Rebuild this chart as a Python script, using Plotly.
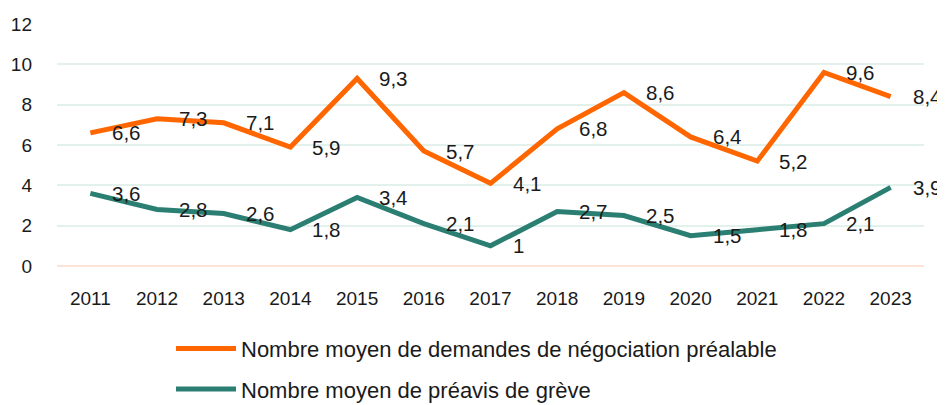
import plotly.graph_objects as go

years = ["2011", "2012", "2013", "2014", "2015", "2016", "2017", "2018", "2019", "2020", "2021", "2022", "2023"]
negociation = [6.6, 7.3, 7.1, 5.9, 9.3, 5.7, 4.1, 6.8, 8.6, 6.4, 5.2, 9.6, 8.4]
preavis = [3.6, 2.8, 2.6, 1.8, 3.4, 2.1, 1.0, 2.7, 2.5, 1.5, 1.8, 2.1, 3.9]
name_neg = "Nombre moyen de demandes de négociation préalable"
name_pre = "Nombre moyen de préavis de grève"

ORANGE = "#FF6600"
TEAL = "#2A7E72"
FONT = "Liberation Sans, Arial, sans-serif"

def fmt(v):
    return ("%g" % v).replace(".", ",")

fig = go.Figure()
fig.add_trace(go.Scatter(x=years, y=negociation, name=name_neg, mode="lines",
                         line=dict(color=ORANGE, width=5), legendgroup="a"))
fig.add_trace(go.Scatter(x=years, y=preavis, name=name_pre, mode="lines",
                         line=dict(color=TEAL, width=5), legendgroup="b"))

annotations = []
for series in (negociation, preavis):
    for i, v in enumerate(series):
        # category index i corresponds to years[i]
        annotations.append(dict(x=i, y=v, text=fmt(v), showarrow=False,
                                xanchor="left", yanchor="middle", xshift=20, yshift=0,
                                font=dict(size=20.5, color="#1a1a1a", family=FONT)))

fig.update_layout(
    width=937, height=397,
    margin=dict(l=49, r=21, t=16, b=139, autoexpand=False),
    paper_bgcolor="white", plot_bgcolor="white",
    font=dict(family=FONT, size=18, color="#1a1a1a"),
    annotations=annotations,
    xaxis=dict(type="category", range=[-0.5, len(years) - 0.5], showgrid=False, showline=False,
               ticks="", tickfont=dict(size=19), ticklabelstandoff=19, automargin=False),
    yaxis=dict(range=[0, 12], dtick=2, showgrid=True, gridcolor="#E3F1ED", gridwidth=1.5,
               zeroline=True, zerolinecolor="#FBE3D8", zerolinewidth=1.5,
               ticks="", tickfont=dict(size=19), ticklabelstandoff=24, automargin=False),
    legend=dict(orientation="v", xref="container", x=0.5, xanchor="center",
                yref="container", y=0.195, yanchor="top",
                font=dict(size=22), tracegroupgap=9, itemwidth=60),
    showlegend=True,
)

fig.write_html("out.html")
